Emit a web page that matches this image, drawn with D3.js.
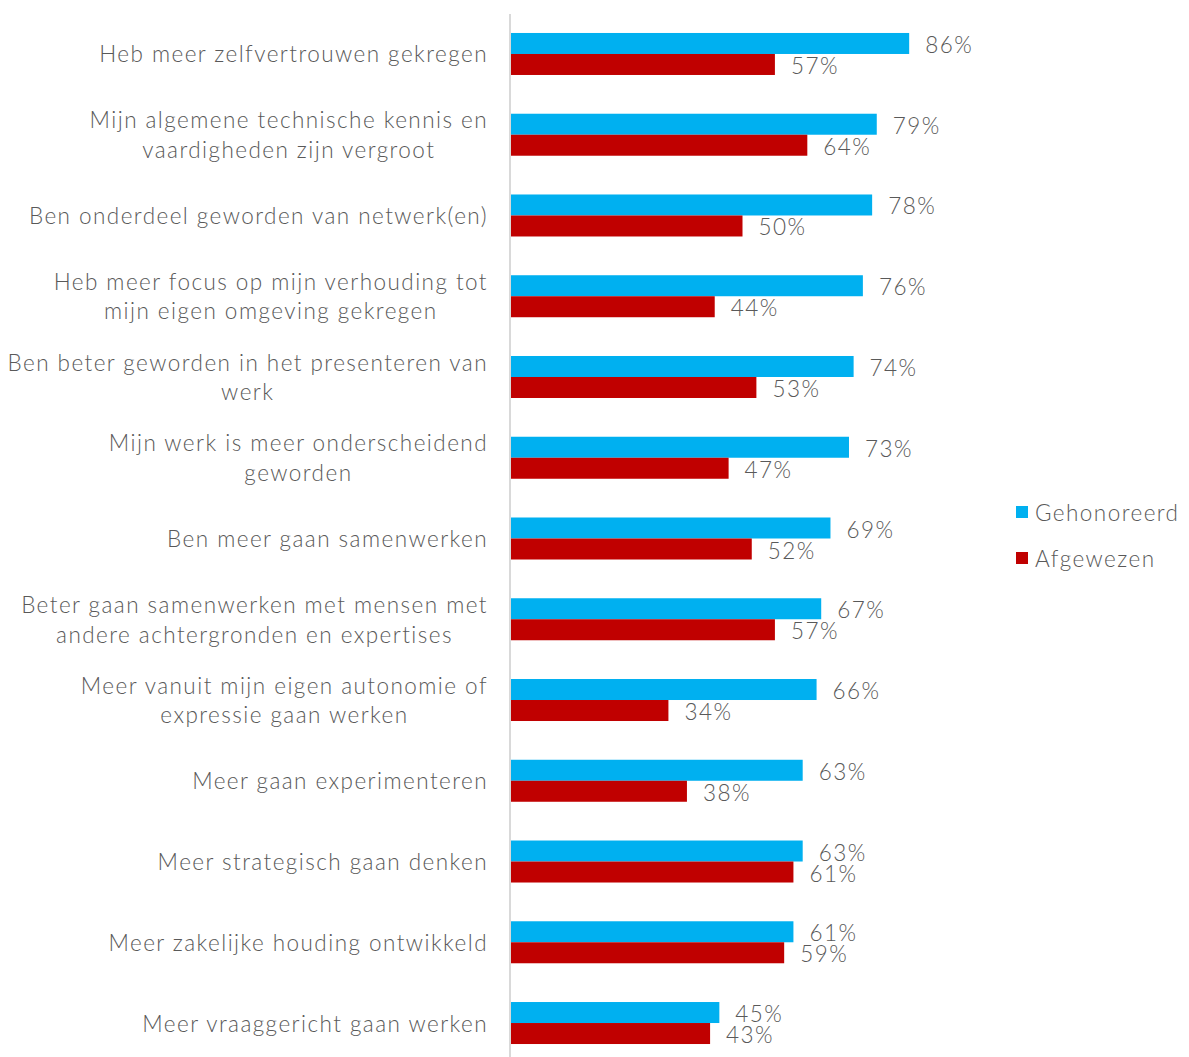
<!DOCTYPE html>
<html><head><meta charset="utf-8">
<script src="https://cdn.jsdelivr.net/npm/d3@7"></script>
<style>body{margin:0;background:#fff}svg{display:block}</style>
</head><body><svg id="c" width="1189" height="1057"></svg>
<script>
const categories = [
  ["Heb meer zelfvertrouwen gekregen"],
  ["Mijn algemene technische kennis en","vaardigheden zijn vergroot"],
  ["Ben onderdeel geworden van netwerk(en)"],
  ["Heb meer focus op mijn verhouding tot","mijn eigen omgeving gekregen"],
  ["Ben beter geworden in het presenteren van","werk"],
  ["Mijn werk is meer onderscheidend","geworden"],
  ["Ben meer gaan samenwerken"],
  ["Beter gaan samenwerken met mensen met","andere achtergronden en expertises"],
  ["Meer vanuit mijn eigen autonomie of","expressie gaan werken"],
  ["Meer gaan experimenteren"],
  ["Meer strategisch gaan denken"],
  ["Meer zakelijke houding ontwikkeld"],
  ["Meer vraaggericht gaan werken"]
];
const gehonoreerd = [86,79,78,76,74,73,69,67,66,63,63,61,45];
const afgewezen   = [57,64,50,44,53,47,52,57,34,38,61,59,43];
const seriesNames = ["Gehonoreerd","Afgewezen"];
const colors = ["#00B0F0","#C00000"];

const svg = d3.select("#c");
const font = "Lato, 'Open Sans', sans-serif";
const fw = 300;
const ls = "1.45px";
const fs = 22.5;
const txt = "#595959";
const x0 = 511;
const x = d3.scaleLinear().domain([0,100]).range([x0, x0+463]);
const y = d3.scaleBand().domain(d3.range(categories.length)).range([13.6, 1063.4]).paddingInner(0).paddingOuter(0);
const barH = 21;

function styleText(sel){
  return sel.attr("font-family", font).attr("font-size", fs).attr("font-weight", fw)
    .attr("letter-spacing", ls).attr("fill", txt);
}

// bars
const series = [gehonoreerd, afgewezen];
series.forEach((vals, s) => {
  svg.append("g").selectAll("rect").data(vals).join("rect")
    .attr("x", x(0))
    .attr("y", (d,i) => y(i) + y.bandwidth()/2 - barH + s*barH)
    .attr("width", d => x(d) - x(0))
    .attr("height", barH)
    .attr("fill", colors[s]);
  styleText(svg.append("g").selectAll("text").data(vals).join("text")
    .attr("x", d => x(d) + 16)
    .attr("y", (d,i) => y(i) + y.bandwidth()/2 - barH/2 + s*barH + 1)
    .attr("dominant-baseline","central"))
    .text(d => d + "%");
});

// axis line
svg.append("line").attr("x1", 510).attr("x2", 510).attr("y1", 14).attr("y2", 1057)
  .attr("stroke", "#d9d9d9").attr("stroke-width", 2);

// category labels: block right-aligned at 487, lines centered within block
const lblG = svg.append("g");
categories.forEach((lines, i) => {
  const cy = y(i) + y.bandwidth()/2;
  const g = lblG.append("g");
  const lh = 29.5;
  const ts = lines.map((l, k) => styleText(g.append("text")
    .attr("y", cy + (k - (lines.length-1)/2)*lh)
    .attr("dominant-baseline","central")
    .attr("text-anchor","start"))
    .text(l));
  const ws = ts.map(t => t.node().getComputedTextLength());
  const maxW = d3.max(ws);
  ts.forEach((t, k) => t.attr("x", 488 - maxW/2 - ws[k]/2));
});

// legend
const lg = svg.append("g");
seriesNames.forEach((n, i) => {
  const ly = 512 + i*46;
  lg.append("rect").attr("x", 1016).attr("y", ly-6).attr("width", 12).attr("height", 12).attr("fill", colors[i]);
  styleText(lg.append("text").attr("x", 1035).attr("y", ly).attr("dominant-baseline","central")).text(n);
});
</script></body></html>
